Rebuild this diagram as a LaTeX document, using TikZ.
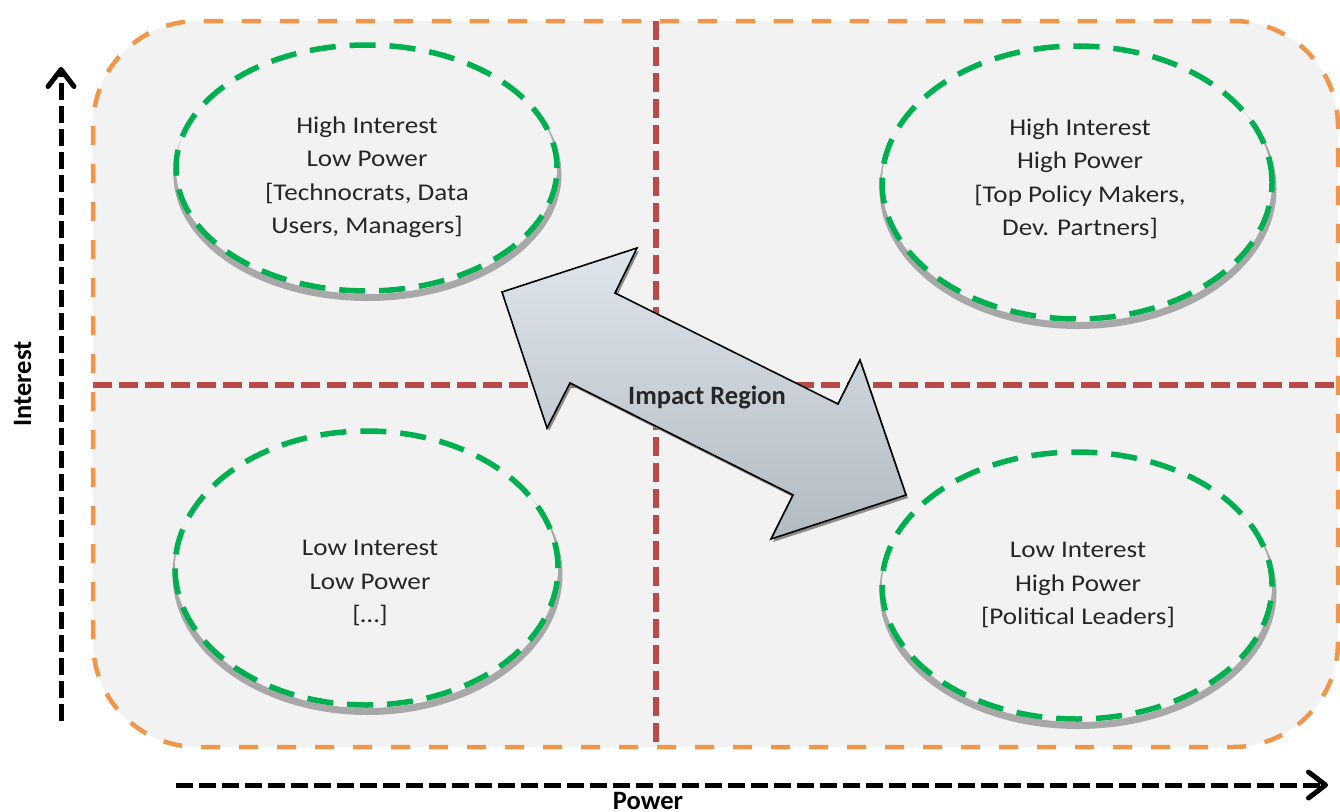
\documentclass[tikz,border=0pt]{standalone}
\usepackage{fontspec}
\setmainfont{Carlito}
\newfontfamily\elfont{Carlito}[FakeStretch=1.13]
\usetikzlibrary{shapes.geometric,arrows.meta}
\definecolor{bg}{HTML}{F2F2F2}
\definecolor{orangec}{HTML}{EF964A}
\definecolor{redc}{HTML}{B94A47}
\definecolor{greenc}{HTML}{00AF50}
\definecolor{shadowc}{HTML}{A8A8A8}
\definecolor{textc}{HTML}{262626}
\definecolor{arrowtop}{HTML}{DEE5EC}
\definecolor{arrowbot}{HTML}{B2BAC2}
\tikzset{
  frame/.style={draw=orangec, fill=bg, line width=4.5pt, dash pattern=on 19pt off 19pt, rounded corners=105pt},
  divider/.style={draw=redc, line width=6pt, dash pattern=on 19pt off 7pt},
  ell/.style={ellipse, draw=greenc, fill=bg, line width=5.5pt, dash pattern=on 26pt off 14pt, inner sep=0pt, outer sep=0pt},
  ellshadow/.style={draw=shadowc, line width=7pt},
  eltext/.style={align=center, font=\elfont\fontsize{24}{33.5}\selectfont, text=textc, inner sep=0pt},
  axisline/.style={line width=5pt, dash pattern=on 17pt off 6pt, -{Straight Barb[length=17pt,width=26pt,line cap=round,line join=round]}},
  axlabel/.style={font=\bfseries\fontsize{26.5}{30}\selectfont, text=black, inner sep=0pt},
  bigarrow/.style={draw=black, line width=1.6pt, line join=miter, top color=arrowtop, bottom color=arrowbot},
  arrowshadow/.style={fill=black!45},
}
\begin{document}
\begin{tikzpicture}[x=1pt,y=-1pt]
\useasboundingbox (0,0) rectangle (1340,811);
% frame
\path[frame] (93,21) rectangle (1338,747);
% dividers
\coordinate (vtop) at (656,21);
\coordinate (vbot) at (656,747);
\coordinate (hleft) at (93,385);
\coordinate (hright) at (1340,385);
\draw[divider] (vtop) -- (vbot);
\draw[divider] (hleft) -- (hright);
% ellipse shadows
\draw[ellshadow] (367.5,174.5) ellipse [x radius=190.5pt, y radius=123pt];
\draw[ellshadow] (1078,189) ellipse [x radius=195pt, y radius=136.5pt];
\draw[ellshadow] (367.5,574.5) ellipse [x radius=191.5pt, y radius=137pt];
\draw[ellshadow] (1078,592) ellipse [x radius=195pt, y radius=133.5pt];
% ellipses
\node[ell, minimum width=381pt, minimum height=246pt] (e1) at (366.5,168) {};
\node[ell, minimum width=390pt, minimum height=273pt] (e2) at (1077,182.5) {};
\node[ell, minimum width=383pt, minimum height=274pt] (e3) at (366.5,568) {};
\node[ell, minimum width=390pt, minimum height=267pt] (e4) at (1077,585.5) {};
% texts
\node[eltext] (t1) at (367,177) {High Interest\\Low Power\\{[}Technocrats, Data\\Users, Managers{]}};
\node[eltext] (t2) at (1080,179) {High Interest\\High Power\\{[}Top Policy Makers,\\Dev. Partners{]}};
\node[eltext] (t3) at (370,583) {Low Interest\\Low Power\\{[}\ldots{]}};
\node[eltext] (t4) at (1078,585) {Low Interest\\High Power\\{[}Political Leaders{]}};
% impact arrow
\fill[arrowshadow, shift={(2,3)}] (502,292) -- (637,248) -- (615,293) -- (838,404) -- (860,360) -- (906,495) -- (771,539) -- (793,495) -- (570,383) -- (547,428) -- cycle;
\path[bigarrow] (502,292) -- (637,248) -- (615,293) -- (838,404) -- (860,360) -- (906,495) -- (771,539) -- (793,495) -- (570,383) -- (547,428) -- cycle;
\node[font=\bfseries\fontsize{26.5}{30}\selectfont, text=textc, inner sep=0pt] (impact) at (707,397) {Impact Region};
% axes
\coordinate (ybot) at (61,721);
\coordinate (ytop) at (61,67);
\coordinate (xleft) at (176,785);
\coordinate (xright) at (1328,785);
\draw[axisline] (ybot) -- (ytop);
\draw[axisline] (xleft) -- (xright);
\node[axlabel, rotate=90, anchor=base] (ilabel) at (31,384) {Interest};
\node[axlabel, anchor=base] (plabel) at (648,809) {Power};
\end{tikzpicture}
\end{document}
